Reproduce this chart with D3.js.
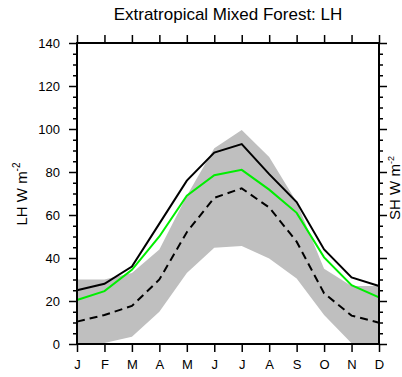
<!DOCTYPE html>
<html>
<head>
<meta charset="utf-8">
<script src="https://cdn.jsdelivr.net/npm/d3@7"></script>
<style>
  body { margin: 0; background: #fff; }
  text { font-family: "Liberation Sans", Arial, sans-serif; fill: #000; }
</style>
</head>
<body>
<svg id="chart" width="402" height="377"></svg>
<script>
const months = ["J", "F", "M", "A", "M", "J", "J", "A", "S", "O", "N", "D"];
const lhObs = [25, 28, 36, 56, 76, 89, 93, 79, 66, 44, 31, 27];
const lhModel = [20.5, 24.6, 34.5, 50, 69, 78.5, 81, 71.8, 61, 40.3, 27.4, 21.7];
const lhDashed = [10.4, 13.5, 17.7, 30, 52, 68, 72.4, 63.5, 47.6, 23.6, 13.2, 9.9];
const bandHigh = [30, 30, 33, 44, 69, 91, 99.5, 87, 66, 35, 27, 27];
const bandLow = [0, 0.5, 3.4, 15, 33, 44.8, 45.6, 39.8, 30.5, 13.5, 0.3, 0];
const yTicks = [0, 20, 40, 60, 80, 100, 120, 140];

const width = 402;
const height = 377;
const margin = { left: 77, right: 23, top: 43, bottom: 33 };

const svg = d3.select("#chart");

const x = d3.scaleLinear()
  .domain([0, months.length - 1])
  .range([margin.left, width - margin.right]);

const y = d3.scaleLinear()
  .domain([0, 140])
  .range([height - margin.bottom, margin.top]);

// gray spread
const area = d3.area()
  .x((d, i) => x(i))
  .y0((d, i) => y(bandLow[i]))
  .y1(d => y(d));

svg.append("path")
  .datum(bandHigh)
  .attr("d", area)
  .attr("fill", "#bfbfbf");

const line = d3.line()
  .x((d, i) => x(i))
  .y(d => y(d));

svg.append("path")
  .datum(lhDashed)
  .attr("d", line)
  .attr("fill", "none")
  .attr("stroke", "#000")
  .attr("stroke-width", 2)
  .attr("stroke-dasharray", "8,5");

svg.append("path")
  .datum(lhModel)
  .attr("d", line)
  .attr("fill", "none")
  .attr("stroke", "#00ee00")
  .attr("stroke-width", 2);

svg.append("path")
  .datum(lhObs)
  .attr("d", line)
  .attr("fill", "none")
  .attr("stroke", "#000")
  .attr("stroke-width", 2);

// axes
const minorTicks = d3.range(0, 141, 5).filter(v => v % 20 !== 0);

svg.append("g")
  .attr("transform", `translate(${margin.left},0)`)
  .call(d3.axisLeft(y).tickValues(minorTicks).tickSize(4).tickFormat(""));
svg.append("g")
  .attr("transform", `translate(${margin.left},0)`)
  .call(d3.axisLeft(y).tickValues(yTicks).tickSize(8).tickPadding(9));

svg.append("g")
  .attr("transform", `translate(${width - margin.right},0)`)
  .call(d3.axisRight(y).tickValues(minorTicks).tickSize(4).tickFormat(""));
svg.append("g")
  .attr("transform", `translate(${width - margin.right},0)`)
  .call(d3.axisRight(y).tickValues(yTicks).tickSize(8).tickFormat(""));

svg.append("g")
  .attr("transform", `translate(0,${height - margin.bottom})`)
  .call(d3.axisBottom(x).tickValues(d3.range(12)).tickSize(8).tickPadding(8)
    .tickFormat(i => months[i]));

svg.append("g")
  .attr("transform", `translate(0,${margin.top})`)
  .call(d3.axisTop(x).tickValues(d3.range(12)).tickSize(8).tickFormat(""));

svg.selectAll(".tick line").attr("stroke-width", 1.5);
svg.selectAll(".tick text").style("font-size", "13px");

// frame lines without the outer tick stubs
svg.selectAll(".domain").remove();
svg.append("rect")
  .attr("x", margin.left)
  .attr("y", margin.top)
  .attr("width", width - margin.left - margin.right)
  .attr("height", height - margin.top - margin.bottom)
  .attr("fill", "none")
  .attr("stroke", "#000")
  .attr("stroke-width", 2);

// titles
svg.append("text")
  .attr("x", 228)
  .attr("y", 20)
  .attr("text-anchor", "middle")
  .style("font-size", "17px")
  .text("Extratropical Mixed Forest: LH");

const leftLabel = svg.append("text")
  .attr("transform", "translate(27,194) rotate(-90)")
  .attr("text-anchor", "middle")
  .style("font-size", "15px");
leftLabel.append("tspan").text("LH W m");
leftLabel.append("tspan").attr("dy", -7).style("font-size", "10px").text("-2");

const rightLabel = svg.append("text")
  .attr("transform", "translate(400,188) rotate(-90)")
  .attr("text-anchor", "middle")
  .style("font-size", "15px");
rightLabel.append("tspan").text("SH W m");
rightLabel.append("tspan").attr("dy", -6).style("font-size", "9px").text("-2");
</script>
</body>
</html>
